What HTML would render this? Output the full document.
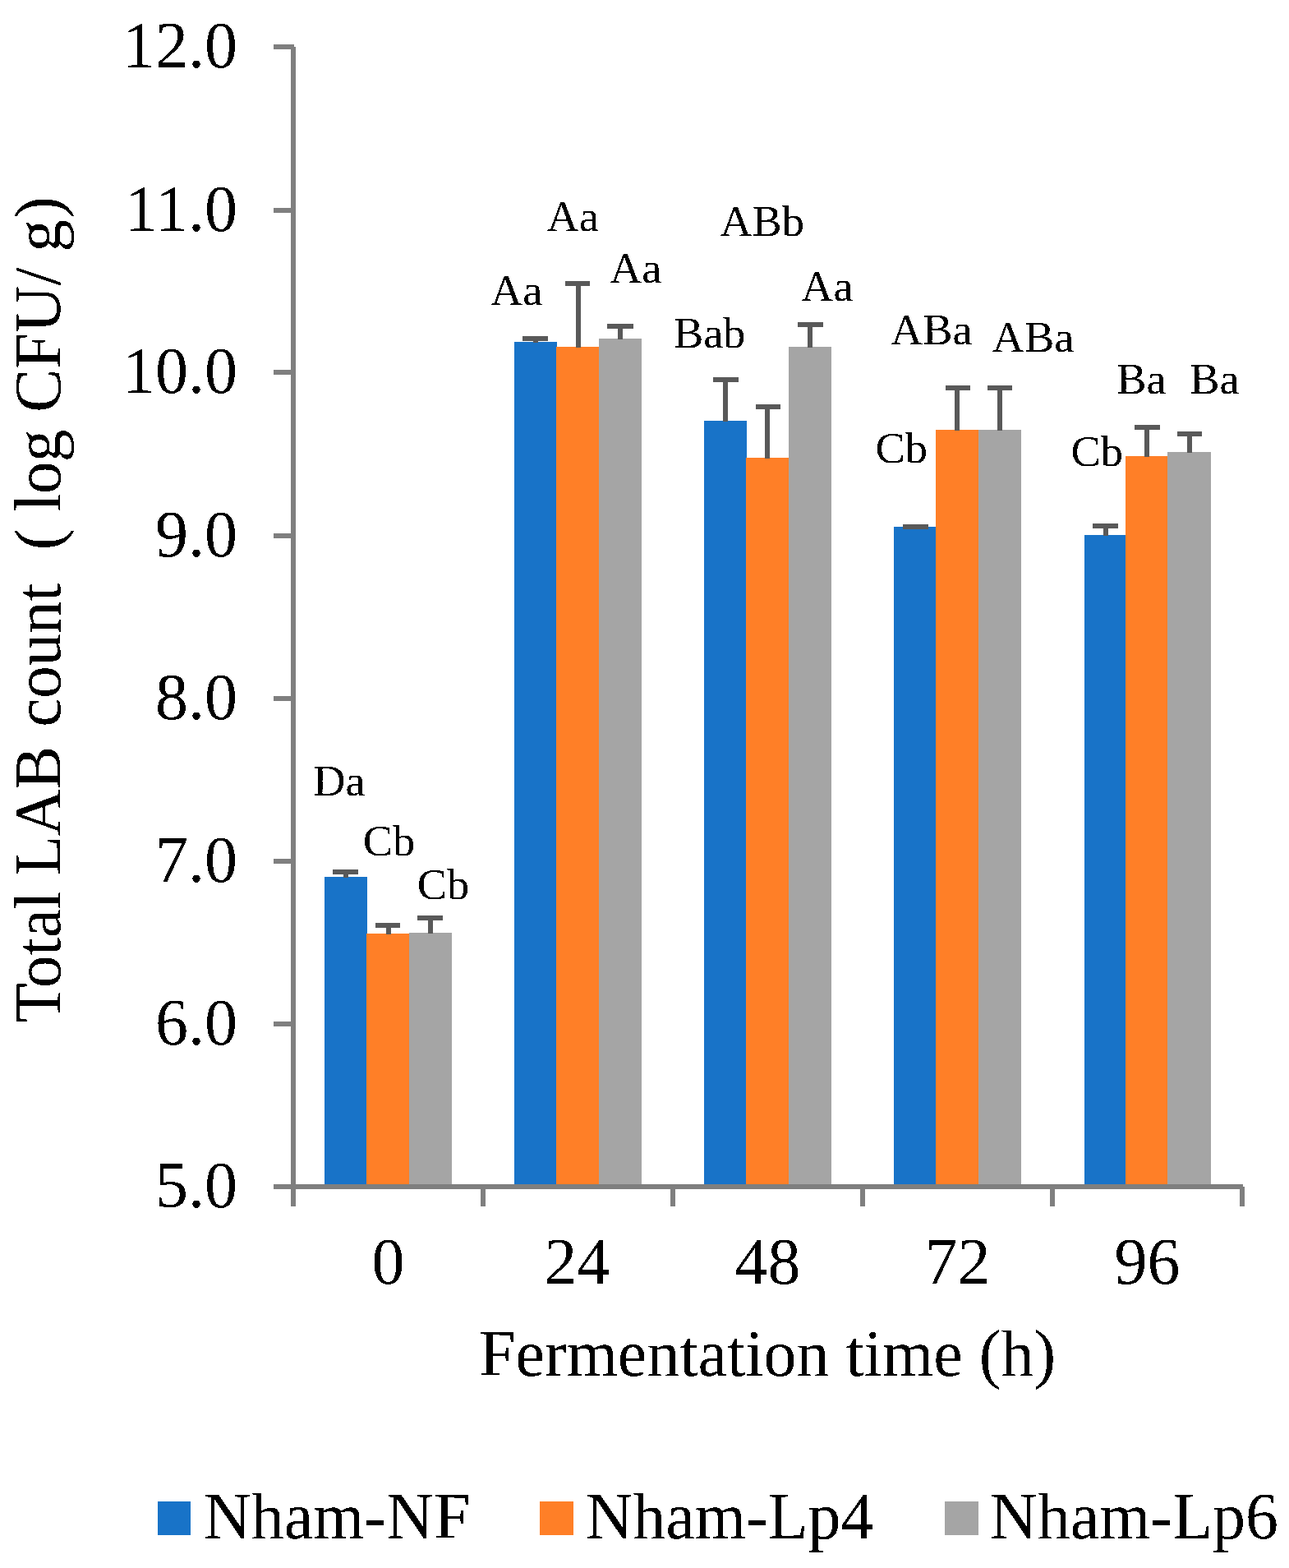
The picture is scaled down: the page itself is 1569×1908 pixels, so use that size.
<!DOCTYPE html>
<html lang="en">
<head>
<meta charset="utf-8">
<title>Total LAB count during fermentation</title>
<style>
html,body{margin:0;padding:0;background:#fff;}
body{width:1569px;height:1908px;overflow:hidden;}
svg{display:block;}
text{font-family:"Liberation Serif","Times New Roman",Times,serif;fill:#000;white-space:pre;}
.ax{font-size:80px;}
.lb{font-size:53.33px;}
</style>
</head>
<body>
<svg width="1569" height="1908" viewBox="0 0 1569 1908" role="img" aria-label="Total LAB count (log CFU/g) versus fermentation time (h) for Nham-NF, Nham-Lp4 and Nham-Lp6">
<rect x="0" y="0" width="1569" height="1908" fill="#ffffff"/>
<g shape-rendering="crispEdges">
<rect x="395" y="1067" width="52" height="377" fill="#1873C8"/>
<rect x="446" y="1136" width="52" height="308" fill="#FF7F27"/>
<rect x="498" y="1135" width="52" height="309" fill="#A5A5A5"/>
<rect x="626" y="416" width="52" height="1028" fill="#1873C8"/>
<rect x="677" y="422" width="52" height="1022" fill="#FF7F27"/>
<rect x="729" y="412" width="52" height="1032" fill="#A5A5A5"/>
<rect x="857" y="512" width="52" height="932" fill="#1873C8"/>
<rect x="908" y="557" width="52" height="887" fill="#FF7F27"/>
<rect x="960" y="422" width="52" height="1022" fill="#A5A5A5"/>
<rect x="1088" y="641" width="52" height="803" fill="#1873C8"/>
<rect x="1139" y="523" width="52" height="921" fill="#FF7F27"/>
<rect x="1191" y="523" width="52" height="921" fill="#A5A5A5"/>
<rect x="1320" y="651" width="51" height="793" fill="#1873C8"/>
<rect x="1370" y="555" width="51" height="889" fill="#FF7F27"/>
<rect x="1421" y="550" width="53" height="894" fill="#A5A5A5"/>
<rect x="354" y="57" width="6" height="1411" fill="#7F7F7F"/>
<rect x="333" y="1441" width="1180" height="6" fill="#7F7F7F"/>
<rect x="333" y="54" width="25" height="6" fill="#7F7F7F"/>
<rect x="333" y="253" width="25" height="6" fill="#7F7F7F"/>
<rect x="333" y="450" width="25" height="6" fill="#7F7F7F"/>
<rect x="333" y="649" width="25" height="6" fill="#7F7F7F"/>
<rect x="333" y="847" width="25" height="6" fill="#7F7F7F"/>
<rect x="333" y="1045" width="25" height="6" fill="#7F7F7F"/>
<rect x="333" y="1243" width="25" height="6" fill="#7F7F7F"/>
<rect x="585" y="1444" width="6" height="24" fill="#7F7F7F"/>
<rect x="816" y="1444" width="6" height="24" fill="#7F7F7F"/>
<rect x="1047" y="1444" width="6" height="24" fill="#7F7F7F"/>
<rect x="1278" y="1444" width="6" height="24" fill="#7F7F7F"/>
<rect x="1509" y="1444" width="6" height="24" fill="#7F7F7F"/>
<rect x="405" y="1058" width="31" height="6" fill="#595959"/>
<rect x="418" y="1058" width="6" height="10" fill="#595959"/>
<rect x="457" y="1123" width="30" height="6" fill="#595959"/>
<rect x="470" y="1123" width="6" height="14" fill="#595959"/>
<rect x="508" y="1114" width="31" height="6" fill="#595959"/>
<rect x="521" y="1114" width="6" height="22" fill="#595959"/>
<rect x="636" y="409" width="31" height="6" fill="#595959"/>
<rect x="649" y="409" width="6" height="8" fill="#595959"/>
<rect x="688" y="342" width="30" height="6" fill="#595959"/>
<rect x="701" y="342" width="6" height="81" fill="#595959"/>
<rect x="739" y="394" width="32" height="6" fill="#595959"/>
<rect x="752" y="394" width="6" height="19" fill="#595959"/>
<rect x="868" y="459" width="31" height="6" fill="#595959"/>
<rect x="880" y="459" width="6" height="54" fill="#595959"/>
<rect x="920" y="492" width="30" height="6" fill="#595959"/>
<rect x="931" y="492" width="6" height="66" fill="#595959"/>
<rect x="971" y="392" width="31" height="6" fill="#595959"/>
<rect x="983" y="392" width="6" height="31" fill="#595959"/>
<rect x="1099" y="638" width="31" height="6" fill="#595959"/>
<rect x="1151" y="469" width="30" height="6" fill="#595959"/>
<rect x="1162" y="469" width="6" height="55" fill="#595959"/>
<rect x="1202" y="469" width="30" height="6" fill="#595959"/>
<rect x="1214" y="469" width="6" height="55" fill="#595959"/>
<rect x="1330" y="637" width="31" height="6" fill="#595959"/>
<rect x="1343" y="637" width="6" height="15" fill="#595959"/>
<rect x="1381" y="517" width="31" height="6" fill="#595959"/>
<rect x="1393" y="517" width="6" height="39" fill="#595959"/>
<rect x="1433" y="525" width="30" height="6" fill="#595959"/>
<rect x="1445" y="525" width="6" height="26" fill="#595959"/>
<rect x="192" y="1827" width="40" height="41" fill="#1873C8"/>
<rect x="657" y="1827" width="41" height="41" fill="#FF7F27"/>
<rect x="1150" y="1827" width="41" height="41" fill="#A5A5A5"/>
</g>
<defs><filter id="bw" filterUnits="userSpaceOnUse" x="0" y="0" width="1569" height="1908" color-interpolation-filters="sRGB"><feComponentTransfer><feFuncA type="discrete" tableValues="0 1"/></feComponentTransfer></filter></defs>
<g filter="url(#bw)">
<text class="ax" transform="translate(289 82)" text-anchor="end">12.0</text>
<text class="ax" transform="translate(289 281)" text-anchor="end">11.0</text>
<text class="ax" transform="translate(289 478)" text-anchor="end">10.0</text>
<text class="ax" transform="translate(289 677)" text-anchor="end">9.0</text>
<text class="ax" transform="translate(289 875)" text-anchor="end">8.0</text>
<text class="ax" transform="translate(289 1073)" text-anchor="end">7.0</text>
<text class="ax" transform="translate(289 1271)" text-anchor="end">6.0</text>
<text class="ax" transform="translate(289 1469)" text-anchor="end">5.0</text>
<text class="ax" transform="translate(472.5 1562)" text-anchor="middle">0</text>
<text class="ax" transform="translate(702.3 1562)" text-anchor="middle">24</text>
<text class="ax" transform="translate(934.5 1562)" text-anchor="middle">48</text>
<text class="ax" transform="translate(1165.5 1562)" text-anchor="middle">72</text>
<text class="ax" transform="translate(1396.5 1562)" text-anchor="middle">96</text>
<text class="ax" transform="translate(583 1674.3)">Fermentation time (h)</text>
<text class="ax" transform="translate(73.3 1245.2) rotate(-90) scale(0.9914 1)"><tspan x="0.61" style="letter-spacing:-0.4px">Total </tspan><tspan x="181.58" style="letter-spacing:-0.61px">LAB </tspan><tspan x="363.57" style="letter-spacing:-0.28px">count  </tspan><tspan x="580.86">( </tspan><tspan x="628.07" style="letter-spacing:-0.7px">log </tspan><tspan x="749.76">CFU/ </tspan><tspan x="946.76" style="letter-spacing:1.21px">g)</tspan></text>
<text class="ax" transform="translate(248 1872.1)">Nham-NF</text>
<text class="ax" transform="translate(712.5 1872.1)">Nham-Lp4</text>
<text class="ax" transform="translate(1205 1872.1)">Nham-Lp6</text>
<text class="lb" transform="translate(381.2 968.1) scale(1.02 1)">Da</text>
<text class="lb" transform="translate(441.7 1041.4) scale(1.02 1)">Cb</text>
<text class="lb" transform="translate(507.65 1094) scale(1.02 1)">Cb</text>
<text class="lb" transform="translate(597.05 371.4) scale(1.02 1)">Aa</text>
<text class="lb" transform="translate(665.4 280.6) scale(1.02 1)">Aa</text>
<text class="lb" transform="translate(742 343.6) scale(1.02 1)">Aa</text>
<text class="lb" transform="translate(819.95 423.2) scale(1.02 1)">Bab</text>
<text class="lb" transform="translate(876.25 287.3) scale(1.02 1)">ABb</text>
<text class="lb" transform="translate(975.1 366.2) scale(1.02 1)">Aa</text>
<text class="lb" transform="translate(1065.5 563.1) scale(1.02 1)">Cb</text>
<text class="lb" transform="translate(1084 418.6) scale(1.02 1)">ABa</text>
<text class="lb" transform="translate(1207.6 427.7) scale(1.02 1)">ABa</text>
<text class="lb" transform="translate(1303.5 566.9) scale(1.02 1)">Cb</text>
<text class="lb" transform="translate(1359.3 478.7) scale(1.02 1)">Ba</text>
<text class="lb" transform="translate(1448.3 479) scale(1.02 1)">Ba</text>
</g>
</svg>
</body>
</html>
